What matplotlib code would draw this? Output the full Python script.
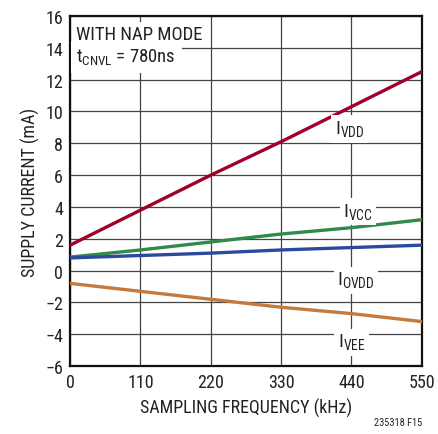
import matplotlib.pyplot as plt
from matplotlib import font_manager

names = {f.name for f in font_manager.fontManager.ttflist}
FONT = "Roboto Condensed" if "Roboto Condensed" in names else "Liberation Sans"
plt.rcParams["font.family"] = [FONT, "DejaVu Sans"]
plt.rcParams["mathtext.fontset"] = "custom"
plt.rcParams["mathtext.rm"] = FONT

freq_khz = [0, 110, 220, 330, 440, 550]
i_vdd = [1.6, 3.8, 6.0, 8.1, 10.3, 12.5]
i_vcc = [0.85, 1.3, 1.8, 2.3, 2.7, 3.2]
i_ovdd = [0.8, 0.95, 1.1, 1.3, 1.45, 1.6]
i_vee = [-0.8, -1.3, -1.8, -2.3, -2.7, -3.2]

x_ticks = [0, 110, 220, 330, 440, 550]
y_ticks = list(range(-6, 17, 2))

fig = plt.figure(figsize=(4.38, 4.35), dpi=100)
ax = fig.add_axes([0.16, 0.156, 0.803, 0.805])

ax.plot(freq_khz, i_vdd, color="#A1002B", lw=2.4, zorder=3)
ax.plot(freq_khz, i_vcc, color="#2F8A4C", lw=2.4, zorder=3)
ax.plot(freq_khz, i_ovdd, color="#2B4A9E", lw=2.4, zorder=3)
ax.plot(freq_khz, i_vee, color="#C47A3A", lw=2.4, zorder=3)

ax.set_xlim(0, 550)
ax.set_ylim(-6, 16)
ax.set_xticks(x_ticks)
ax.set_yticks(y_ticks)
ax.set_yticklabels([str(v).replace("-", "\u2212") for v in y_ticks])
ax.grid(True, color="#444444", lw=0.9)
ax.tick_params(length=0, labelsize=13, pad=5, colors="#222222")
for s in ax.spines.values():
    s.set_linewidth(1.6)
    s.set_color("#111111")

ax.set_xlabel("SAMPLING FREQUENCY (kHz)", fontsize=13, color="#222222", labelpad=5)
ax.set_ylabel("SUPPLY CURRENT (mA)", fontsize=13, color="#222222", labelpad=4)

box = dict(facecolor="white", edgecolor="none", pad=2.5)
labels = [
    (437, 8.9, r"I$_{\mathregular{VDD}}$"),
    (450, 3.7, r"I$_{\mathregular{VCC}}$"),
    (447, -0.6, r"I$_{\mathregular{OVDD}}$"),
    (440, -4.5, r"I$_{\mathregular{VEE}}$"),
]
for x, y, t in labels:
    ax.text(x, y, t, fontsize=14, ha="center", va="center", bbox=box,
            zorder=4, color="#222222")

# header, one white box per line (first line drawn on top)
ax.text(0.018, 0.975, "WITH NAP MODE", transform=ax.transAxes, ha="left",
        va="top", fontsize=13.5, color="#222222", zorder=5,
        bbox=dict(facecolor="white", edgecolor="none", pad=2))
ax.text(0.018, 0.912, r"t$_{\mathregular{CNVL}}$ = 780ns", transform=ax.transAxes,
        ha="left", va="top", fontsize=13.5, color="#222222", zorder=4,
        bbox=dict(facecolor="white", edgecolor="none", pad=4))

fig.text(0.963, 0.015, "235318 F15", ha="right", va="bottom", fontsize=7.5,
         color="#222222")

fig.savefig("out.png", dpi=100)
